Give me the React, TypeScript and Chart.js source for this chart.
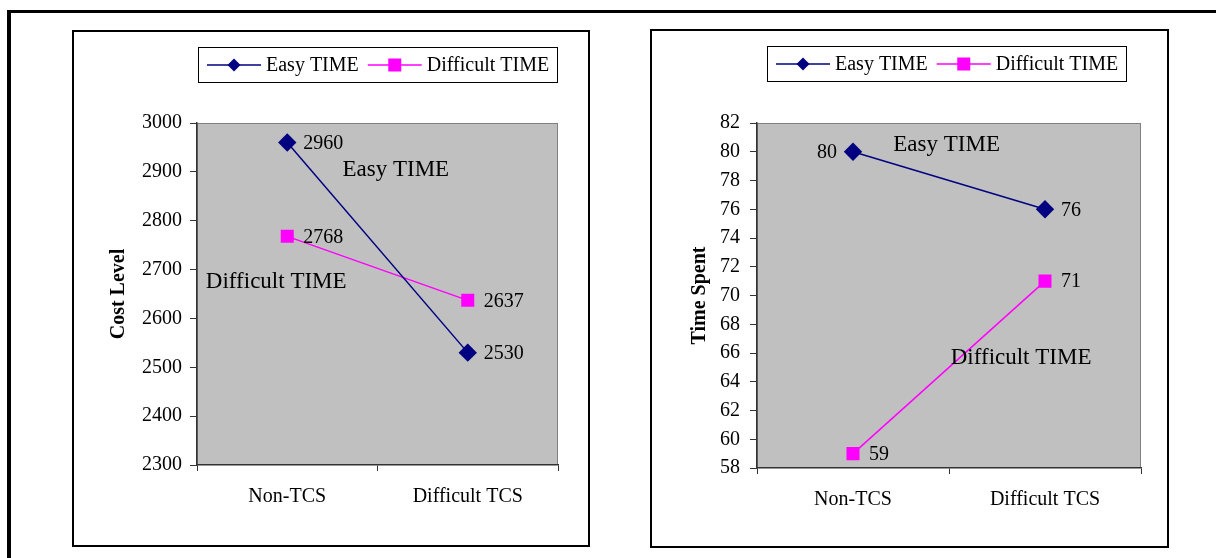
import React, { useEffect, useRef } from "react";
import { Chart, registerables } from "chart.js";

Chart.register(...registerables);

// ---- data ----
const categories = ["Non-TCS", "Difficult TCS"];
const seriesNames = ["Easy TIME", "Difficult TIME"];

const costEasy = [2960, 2530];
const costDifficult = [2768, 2637];
const costAxis = { min: 2300, max: 3000, step: 100, title: "Cost Level" };

const timeEasy = [80, 76];
const timeDifficult = [59, 71];
const timeAxis = { min: 58, max: 82, step: 2, title: "Time Spent" };

// free-floating series captions, anchored in data units (category index, value)
const costNotes = [
  { text: "Easy TIME", x: 0.306, y: 2906 },
  { text: "Difficult TIME", x: -0.451, y: 2677 },
];
const timeNotes = [
  { text: "Easy TIME", x: 0.21, y: 80.54 },
  { text: "Difficult TIME", x: 0.509, y: 65.72 },
];

// ---- styling ----
const FONT = '"Liberation Serif", "Times New Roman", Times, serif';
const NAVY = "#000080";
const MAGENTA = "#FF00FF";
const PLOT_BG = "#C0C0C0";
const PLOT_EDGE = "#808080";
const AXIS = "#333333";

function drawDiamond(ctx: CanvasRenderingContext2D, x: number, y: number, r: number) {
  ctx.beginPath();
  ctx.moveTo(x, y - r);
  ctx.lineTo(x + r, y);
  ctx.lineTo(x, y + r);
  ctx.lineTo(x - r, y);
  ctx.closePath();
  ctx.fill();
}

// grey plot background with a thin frame
const plotBackground = {
  id: "plotBackground",
  beforeDraw(chart: any) {
    const { ctx, chartArea: a } = chart;
    ctx.save();
    ctx.fillStyle = PLOT_BG;
    ctx.fillRect(a.left, a.top, a.right - a.left, a.bottom - a.top);
    ctx.strokeStyle = PLOT_EDGE;
    ctx.lineWidth = 1;
    ctx.strokeRect(a.left + 0.5, a.top + 0.5, a.right - a.left - 1, a.bottom - a.top - 1);
    ctx.restore();
  },
};

// boxed legend with line + marker samples, centred over the plot
const boxedLegend = {
  id: "boxedLegend",
  afterDraw(chart: any, _args: any, opts: any) {
    const { ctx, chartArea: a } = chart;
    const ds = chart.data.datasets;
    ctx.save();
    ctx.font = `20px ${FONT}`;
    const pad = 9;
    const lineLen = 54;
    const gap = 5;
    const itemGap = 9;
    const widths = ds.map((d: any) => ctx.measureText(d.label).width);
    let total = pad * 2;
    widths.forEach((w: number, i: number) => {
      total += lineLen + gap + w + (i < widths.length - 1 ? itemGap : 0);
    });
    total = Math.round(total);
    const cx = (a.left + a.right) / 2 + (opts.dx || 0);
    const top = opts.top;
    const h = 36;
    const left = Math.round(cx - total / 2);
    ctx.fillStyle = "#ffffff";
    ctx.fillRect(left, top, total, h);
    ctx.strokeStyle = "#000000";
    ctx.lineWidth = 1;
    ctx.strokeRect(left + 0.5, top + 0.5, total - 1, h - 1);
    const cy = top + h / 2;
    let x = left + pad;
    ds.forEach((d: any, i: number) => {
      ctx.strokeStyle = d.borderColor;
      ctx.lineWidth = 1.5;
      ctx.beginPath();
      ctx.moveTo(x, cy);
      ctx.lineTo(x + lineLen, cy);
      ctx.stroke();
      ctx.fillStyle = d.borderColor;
      const mx = x + lineLen / 2;
      if (d.pointStyle === "rectRot") drawDiamond(ctx, mx, cy, 6.5);
      else ctx.fillRect(mx - 6.5, cy - 6.5, 13, 13);
      x += lineLen + gap;
      ctx.fillStyle = "#000000";
      ctx.textAlign = "left";
      ctx.textBaseline = "middle";
      ctx.fillText(d.label, x, cy + 1);
      x += widths[i] + itemGap;
    });
    ctx.restore();
  },
};

// value labels beside each marker
const valueLabels = {
  id: "valueLabels",
  afterDatasetsDraw(chart: any, _args: any, opts: any) {
    const { ctx } = chart;
    ctx.save();
    ctx.font = `20px ${FONT}`;
    ctx.fillStyle = "#000000";
    ctx.textBaseline = "middle";
    chart.data.datasets.forEach((d: any, di: number) => {
      const meta = chart.getDatasetMeta(di);
      meta.data.forEach((pt: any, i: number) => {
        const side = opts.sides?.[di]?.[i] || "right";
        const off = 16;
        ctx.textAlign = side === "left" ? "right" : "left";
        ctx.fillText(String(d.data[i]), side === "left" ? pt.x - off : pt.x + off, pt.y + 1);
      });
    });
    ctx.restore();
  },
};

// series captions inside the plot
const seriesNotes = {
  id: "seriesNotes",
  afterDatasetsDraw(chart: any, _args: any, opts: any) {
    const { ctx, scales } = chart;
    ctx.save();
    ctx.font = `23px ${FONT}`;
    ctx.fillStyle = "#000000";
    ctx.textAlign = "left";
    ctx.textBaseline = "middle";
    (opts.notes || []).forEach((n: any) => {
      ctx.fillText(n.text, scales.x.getPixelForValue(n.x), scales.y.getPixelForValue(n.y) + 1);
    });
    ctx.restore();
  },
};

type PanelSpec = {
  frame: { left: number; top: number; width: number; height: number };
  easy: number[];
  difficult: number[];
  axis: { min: number; max: number; step: number; title: string };
  notes: { text: string; x: number; y: number }[];
  sides: string[][];
  padding: { top: number; right: number; bottom: number; left: number };
  yWidth: number;
  yTickPad: number;
  titlePad: number;
  legendTop: number;
  legendDx: number;
};

function Panel({ spec }: { spec: PanelSpec }) {
  const ref = useRef<HTMLCanvasElement | null>(null);
  const border = 2;
  const cw = spec.frame.width - border * 2;
  const ch = spec.frame.height - border * 2;

  useEffect(() => {
    if (!ref.current) return;
    const chart = new Chart(ref.current, {
      type: "line",
      data: {
        labels: categories,
        datasets: [
          {
            label: seriesNames[0],
            data: spec.easy,
            borderColor: NAVY,
            backgroundColor: NAVY,
            borderWidth: 1.5,
            pointStyle: "rectRot",
            pointRadius: 9.2,
            pointBorderWidth: 0,
            pointBackgroundColor: NAVY,
            tension: 0,
          },
          {
            label: seriesNames[1],
            data: spec.difficult,
            borderColor: MAGENTA,
            backgroundColor: MAGENTA,
            borderWidth: 1.5,
            pointStyle: "rect",
            pointRadius: 9.2,
            pointBorderWidth: 0,
            pointBackgroundColor: MAGENTA,
            tension: 0,
          },
        ],
      },
      options: {
        responsive: false,
        animation: false,
        devicePixelRatio: 1,
        layout: { padding: spec.padding },
        plugins: {
          legend: { display: false },
          tooltip: { enabled: false },
          boxedLegend: { top: spec.legendTop, dx: spec.legendDx },
          valueLabels: { sides: spec.sides },
          seriesNotes: { notes: spec.notes },
        } as any,
        scales: {
          x: {
            type: "category",
            offset: true,
            grid: {
              offset: true,
              drawOnChartArea: false,
              tickLength: 6,
              color: AXIS,
              lineWidth: 1,
            },
            border: { color: AXIS, width: 1.5 },
            ticks: { font: { family: FONT, size: 20 }, color: "#000000", padding: 14, maxRotation: 0 },
            afterFit: (s: any) => {
              s.height = 50;
            },
          },
          y: {
            min: spec.axis.min,
            max: spec.axis.max,
            ticks: {
              stepSize: spec.axis.step,
              font: { family: FONT, size: 20 },
              color: "#000000",
              padding: spec.yTickPad,
              callback: (v: any) => String(v),
            },
            grid: { drawOnChartArea: false, tickLength: 7, color: AXIS, lineWidth: 1 },
            border: { color: AXIS, width: 1.5 },
            title: {
              display: true,
              text: spec.axis.title,
              font: { family: FONT, size: 20, weight: "bold" },
              color: "#000000",
              padding: { top: spec.titlePad, bottom: 0 },
            },
            afterFit: (s: any) => {
              s.width = spec.yWidth;
            },
          },
        },
      },
      plugins: [plotBackground, boxedLegend, valueLabels, seriesNotes],
    } as any);
    return () => chart.destroy();
  }, [spec]);

  return (
    <div
      style={{
        position: "absolute",
        left: spec.frame.left,
        top: spec.frame.top,
        width: spec.frame.width,
        height: spec.frame.height,
        boxSizing: "border-box",
        border: `${border}px solid #000`,
        background: "#fff",
      }}
    >
      <canvas ref={ref} width={cw} height={ch} style={{ display: "block", width: cw, height: ch }} />
    </div>
  );
}

const costPanel: PanelSpec = {
  frame: { left: 72, top: 30, width: 518, height: 517 },
  easy: costEasy,
  difficult: costDifficult,
  axis: costAxis,
  notes: costNotes,
  sides: [
    ["right", "right"],
    ["right", "right"],
  ],
  padding: { top: 91, right: 30, bottom: 30, left: 23 },
  yWidth: 100,
  yTickPad: 8,
  titlePad: 10,
  legendTop: 15,
  legendDx: 0,
};

const timePanel: PanelSpec = {
  frame: { left: 650, top: 29, width: 519, height: 519 },
  easy: timeEasy,
  difficult: timeDifficult,
  axis: timeAxis,
  notes: timeNotes,
  sides: [
    ["left", "right"],
    ["right", "right"],
  ],
  padding: { top: 92, right: 26, bottom: 28, left: 15 },
  yWidth: 90,
  yTickPad: 10,
  titlePad: 21,
  legendTop: 15,
  legendDx: -2,
};

export default function App() {
  return (
    <div
      style={{
        position: "absolute",
        left: 0,
        top: 0,
        width: 1216,
        height: 558,
        overflow: "hidden",
        background: "#fff",
      }}
    >
      <div
        style={{
          position: "absolute",
          left: 7,
          top: 10,
          width: 1240,
          height: 600,
          borderTop: "3px solid #000",
          borderLeft: "4px solid #000",
        }}
      />
      <Panel spec={costPanel} />
      <Panel spec={timePanel} />
    </div>
  );
}
